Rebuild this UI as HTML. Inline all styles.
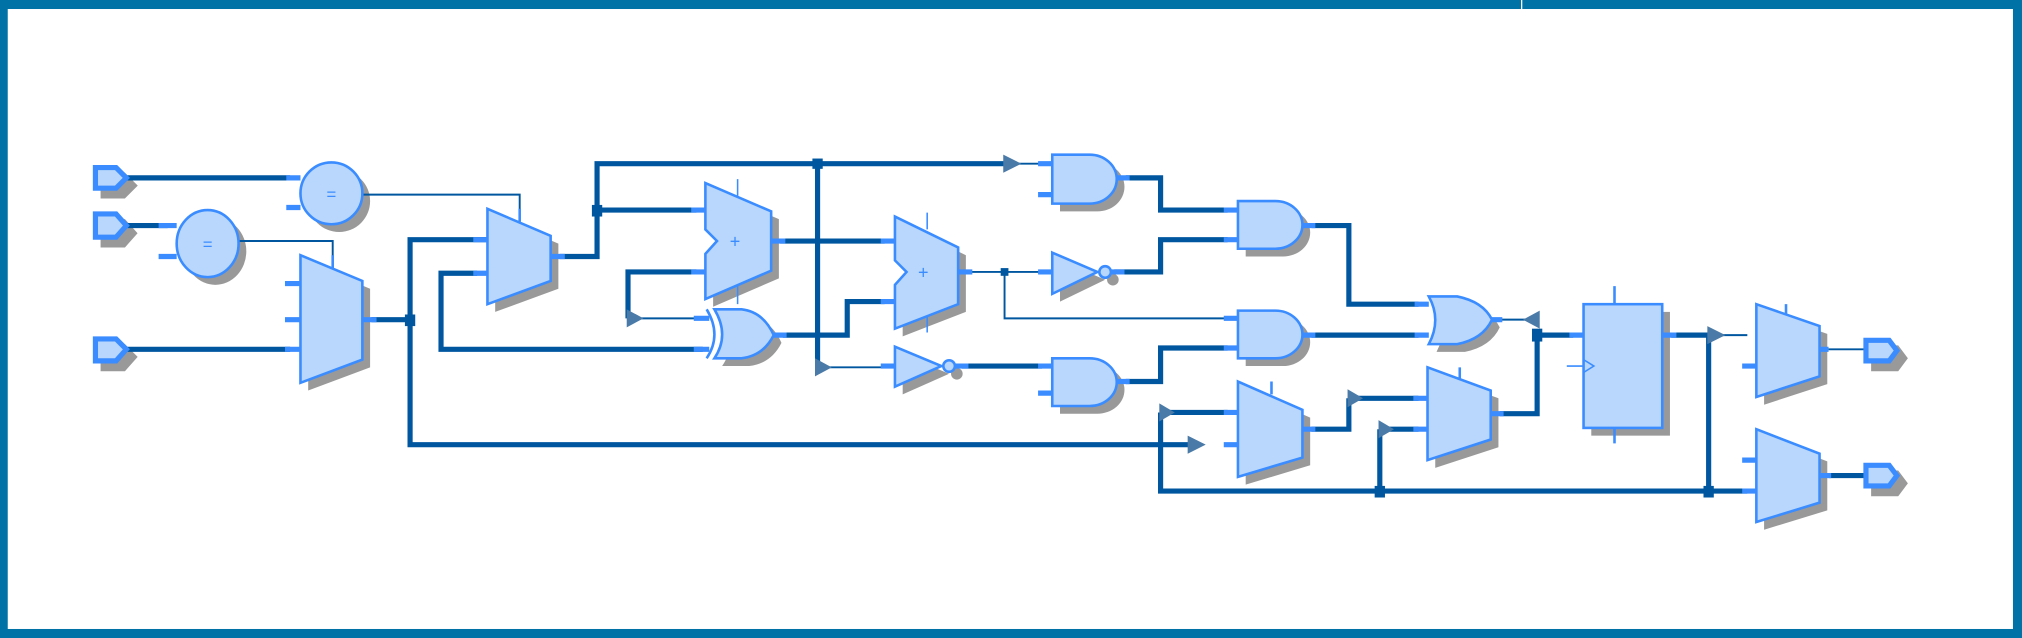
<!DOCTYPE html>
<html><head><meta charset="utf-8"><style>
html,body{margin:0;padding:0;background:#fff;}
svg{display:block;}
</style></head><body>
<svg width="2022" height="638" viewBox="0 0 1568 495" xmlns="http://www.w3.org/2000/svg" preserveAspectRatio="none">
<defs>
<g id="ports">
 <path d="M74,130 H90 L98,138 L90,146 H74Z"/>
 <path d="M74,166 H90 L98,175 L90,184 H74Z"/>
 <path d="M74,263 H90 L98,271 L90,280 H74Z"/>
 <path d="M1447,264 H1465 L1471,272 L1465,280 H1447Z"/>
 <path d="M1447,361 H1465 L1471,369 L1465,377 H1447Z"/>
</g>
<g id="shp">
 <ellipse cx="257" cy="150" rx="24" ry="24"/>
 <ellipse cx="161" cy="189" rx="24" ry="26"/>
 <path d="M233,198 L281,218 V279 L233,297Z"/>
 <path d="M378,162 L427,183 V218 L378,236Z"/>
 <path d="M547,142 L598,164 V210 L547,232 V197 L556,187 L547,178Z"/>
 <path d="M554,240 H575 Q592,242 600,260 Q592,276 575,278 H554 Q566,260 554,240Z"/>
 <path d="M694,168 L743,192 V236 L694,255 V221 L703,211 L694,202Z"/>
 <path d="M816,120 H845 A21,19 0 0 1 845,158 H816Z"/>
 <path d="M960,156 H989 A21,18.5 0 0 1 989,193 H960Z"/>
 <path d="M960,241 H989 A21,18.5 0 0 1 989,278 H960Z"/>
 <path d="M816,278 H845 A21,18.5 0 0 1 845,315 H816Z"/>
 <path d="M816,196 L851,211 L816,228Z"/>
 <circle cx="857" cy="211" r="4.5"/>
 <path d="M694,269 L730,284 L694,300Z"/>
 <circle cx="736" cy="284" r="4.5"/>
 <path d="M1108,230 H1130 Q1150,234 1157,248 Q1150,263 1130,267 H1108 Q1118,248 1108,230Z"/>
 <path d="M960,296 L1010,318 V355 L960,370Z"/>
 <path d="M1107,285 L1156,303 V341 L1107,357Z"/>
 <rect x="1228" y="236" width="61" height="96"/>
 <path d="M1362,236 L1411,253 V292 L1362,308Z"/>
 <path d="M1362,333 L1411,352 V390 L1362,405Z"/>
</g>
</defs>
<rect x="0" y="0" width="1568" height="495" fill="#0072a5"/>
<rect x="6" y="7" width="1555" height="481" fill="#fff"/>
<rect x="1179.5" y="0" width="1" height="7" fill="#fff"/>

<use href="#shp" transform="translate(6,6)" fill="#999" stroke="none"/>
<use href="#ports" transform="translate(6,6)" fill="#999" stroke="#999" stroke-width="4"/>

<g fill="none" stroke="#0057a0" stroke-width="4" stroke-linejoin="miter">
 <path d="M98,138 H225"/>
 <path d="M98,175 H130"/>
 <path d="M98,271 H225"/>
 <path d="M288,248 H318"/>
 <path d="M378,186 H318 V345 H925"/>
 <path d="M370,212 H342 V271 H545"/>
 <path d="M434,199 H463 V127 H780"/>
 <path d="M463,163 H540"/>
 <path d="M634,127 V285"/>
 <path d="M605,187 H686"/>
 <path d="M607,260 H657 V234 H686"/>
 <path d="M540,211 H487 V247"/>
 <path d="M873,138 H900 V163 H952"/>
 <path d="M864,211 H900 V186 H952"/>
 <path d="M1017,175 H1046 V236 H1100"/>
 <path d="M1017,260 H1100"/>
 <path d="M746,284 H808"/>
 <path d="M873,296 H900 V270 H952"/>
 <path d="M1163,321 H1192 V260 H1220"/>
 <path d="M1017,333 H1046 V309"/>
 <path d="M1050,309 H1100"/>
 <path d="M900,320 V381 H1355"/>
 <path d="M900,320 H952"/>
 <path d="M1070,381 V333"/>
 <path d="M1074,333 H1100"/>
 <path d="M1296,260 H1325 V381"/>
 <path d="M1418,369 H1447"/>
</g>
<g fill="none" stroke="#0057a0" stroke-width="1.5">
 <path d="M281,151 H403 V164"/>
 <path d="M185,187 H258 V203"/>
 <path d="M487,247 H545"/>
 <path d="M638,285 H690"/>
 <path d="M750,211 H808"/>
 <path d="M779,211 V247 H952"/>
 <path d="M1162,248 H1192"/>
 <path d="M1330,260 H1355"/>
 <path d="M1418,271 H1447"/>
 <path d="M785,127 H810"/>
</g>
<g fill="#0057a0">
 <rect x="314" y="244" width="8" height="9"/>
 <rect x="459" y="159" width="8" height="9"/>
 <rect x="630" y="123" width="8" height="8"/>
 <rect x="776" y="208" width="6" height="6"/>
 <rect x="1188" y="255" width="8" height="10"/>
 <rect x="1066" y="377" width="8" height="9"/>
 <rect x="1321" y="377" width="8" height="9"/>
</g>
<g fill="#4a7aa8">
 <path d="M778,120 L792,127 L778,134Z"/>
 <path d="M486,240 L499,247 L486,254Z"/>
 <path d="M632,278 L645,285 L632,292Z"/>
 <path d="M899,313 L911,320 L899,327Z"/>
 <path d="M921,338 L935,345 L921,352Z"/>
 <path d="M1045,302 L1057,309 L1045,316Z"/>
 <path d="M1069,326 L1081,333 L1069,340Z"/>
 <path d="M1194,241 L1181,248 L1194,255Z"/>
 <path d="M1324,253 L1338,260 L1324,267Z"/>
</g>
<g stroke="#3a8cff" stroke-width="4">
 <path d="M222,138 H233 M222,161 H233 M123,175 H137 M123,199 H137"/>
 <path d="M221,220 H233 M221,248 H233 M221,271 H233 M281,248 H292"/>
 <path d="M367,186 H378 M367,212 H378 M427,199 H438"/>
 <path d="M536,163 H547 M536,211 H547 M598,187 H609"/>
 <path d="M538,247 H550 M538,271 H550 M600,260 H610"/>
 <path d="M683,187 H694 M683,234 H694 M743,211 H754"/>
 <path d="M805,127 H816 M805,151 H816 M866,138 H876"/>
 <path d="M805,211 H816 M862,211 H872"/>
 <path d="M949,163 H960 M949,186 H960 M1010,175 H1020"/>
 <path d="M949,247 H960 M949,270 H960 M1010,260 H1020"/>
 <path d="M805,284 H816 M805,305 H816 M866,296 H876"/>
 <path d="M683,284 H694 M741,284 H751"/>
 <path d="M1097,236 H1108 M1097,260 H1108 M1157,248 H1165"/>
 <path d="M949,320 H960 M949,345 H960 M1010,333 H1020"/>
 <path d="M1096,309 H1107 M1096,333 H1107 M1156,321 H1166"/>
 <path d="M1217,260 H1228 M1289,260 H1300"/>
 <path d="M1351,284 H1362 M1411,271 H1418"/>
 <path d="M1351,357 H1362 M1351,381 H1362 M1411,369 H1420"/>
</g>
<g stroke="#3a8cff" stroke-width="2">
 <path d="M403,162 V172 M258,198 V208 M986,296 V306 M1132,285 V295 M1385,236 V246"/>
 <path d="M1252,222 V236 M1252,332 V344"/>
</g>
<g stroke="#3a8cff" stroke-width="1.2">
 <path d="M572,139 V152 M572,222 V236 M719,165 V178 M719,244 V258"/>
</g>

<use href="#shp" fill="#b9d7fc" stroke="#3a8cff" stroke-width="2"/>
<use href="#ports" fill="#b9d7fc" stroke="#3a8cff" stroke-width="4"/>
<path d="M548,240 Q560,260 548,278" fill="none" stroke="#3a8cff" stroke-width="2"/>
<path d="M1215,284 H1228 M1228,279 L1236,284 L1228,289" fill="none" stroke="#3a8cff" stroke-width="1.2"/>
<g font-family="Liberation Sans, sans-serif" font-size="13" fill="#3a8cff" text-anchor="middle">
 <text x="257" y="155">=</text>
 <text x="161" y="194">=</text>
 <text x="570" y="192" font-size="14">+</text>
 <text x="716" y="216" font-size="14">+</text>
</g>
</svg>
</body></html>
